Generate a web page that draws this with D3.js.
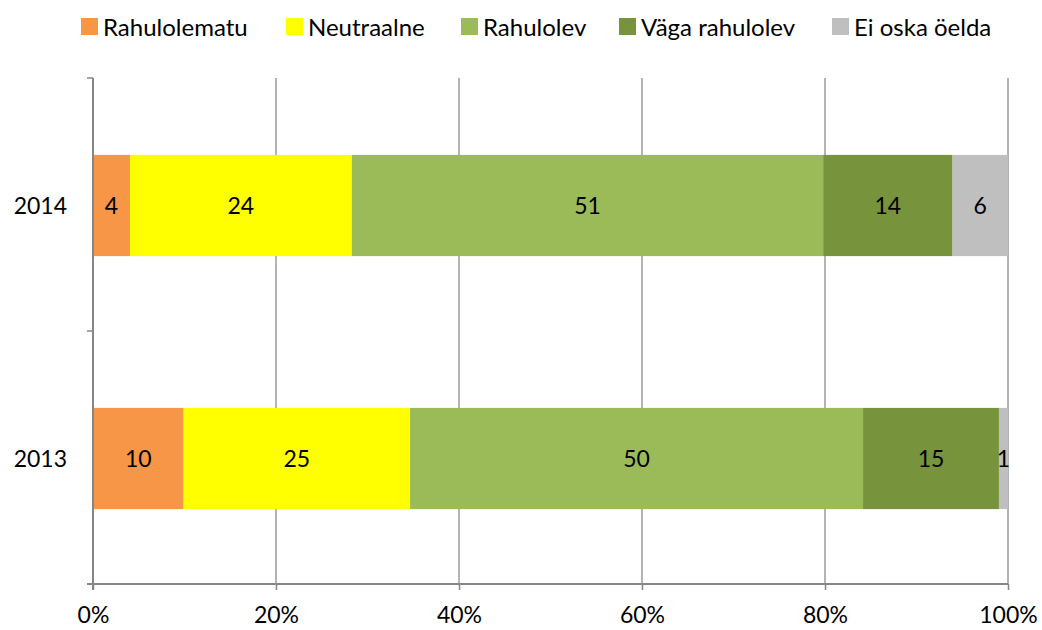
<!DOCTYPE html>
<html>
<head>
<meta charset="utf-8">
<script src="https://cdn.jsdelivr.net/npm/d3@7"></script>
<style>
  body { margin: 0; background: #fff; }
  text { font-family: Lato, "Liberation Sans", sans-serif; fill: #000; }
</style>
</head>
<body>
<svg id="chart" width="1042" height="630"></svg>
<script>
const years = ["2014", "2013"];
const seriesNames = ["Rahulolematu", "Neutraalne", "Rahulolev", "Väga rahulolev", "Ei oska öelda"];
const values2014 = [4, 24, 51, 14, 6];
const values2013 = [10, 25, 50, 15, 1];
const xTicks = [0, 0.2, 0.4, 0.6, 0.8, 1.0];
const colors = ["#F79646", "#FFFF00", "#9BBB59", "#77933C", "#BFBFBF"];

(function () {
const rows = [values2014, values2013];
const svg = d3.select("#chart");
const pL = 93, pR = 1008, pT = 78, pB = 584;
const fontNum = 23;

const x = d3.scaleLinear().domain([0, 1]).range([pL, pR]);
const y = d3.scaleBand().domain(years).range([pT, pB]).paddingInner(0.6).paddingOuter(0.3);
const yFull = d3.scaleBand().domain(years).range([pT, pB]);

// gridlines
svg.append("g").selectAll("line").data(xTicks.slice(1)).join("line")
  .attr("x1", d => x(d)).attr("x2", d => x(d))
  .attr("y1", pT).attr("y2", pB)
  .attr("stroke", "#8c8c8c").attr("stroke-width", 1.3);

// bars
years.forEach((yr, i) => {
  const vals = rows[i];
  const total = d3.sum(vals);
  let cum = 0;
  const segs = vals.map((v, j) => {
    const s = { x0: cum / total, x1: (cum + v) / total, v, j };
    cum += v;
    return s;
  });
  const g = svg.append("g");
  g.selectAll("rect").data(segs).join("rect")
    .attr("x", d => x(d.x0)).attr("width", d => x(d.x1) - x(d.x0))
    .attr("y", y(yr) + 1).attr("height", y.bandwidth())
    .attr("fill", d => colors[d.j]);
  g.selectAll("text").data(segs).join("text")
    .attr("x", d => (x(d.x0) + x(d.x1)) / 2)
    .attr("y", y(yr) + 1 + y.bandwidth() / 2)
    .attr("dy", "0.36em")
    .attr("text-anchor", "middle")
    .attr("font-size", fontNum)
    .text(d => d.v);
});

// x axis
const xAxis = svg.append("g").attr("transform", `translate(0,${pB})`)
  .call(d3.axisBottom(x).tickValues(xTicks).tickFormat(d3.format(".0%")).tickSize(6).tickSizeOuter(0));
xAxis.select(".domain").attr("stroke", "#868686").attr("stroke-width", 2).attr("d", `M${pL - 6},0H${pR}`);
xAxis.selectAll(".tick line").attr("stroke", "#868686").attr("stroke-width", 1.5);
xAxis.selectAll(".tick text").attr("font-size", fontNum).attr("font-family", "Lato, 'Liberation Sans', sans-serif").attr("y", 39).attr("dy", "0");

// y axis
const yAxis = svg.append("g").attr("transform", `translate(${pL},0)`)
  .call(d3.axisLeft(yFull).tickSize(0).tickPadding(26));
yAxis.select(".domain").attr("stroke", "#868686").attr("stroke-width", 2).attr("d", `M0,${pT}V${pB + 6}`);
yAxis.selectAll(".tick text").attr("font-size", fontNum).attr("font-family", "Lato, 'Liberation Sans', sans-serif").attr("dy", "0.4em");
// category boundary ticks
const bounds = [pT, yFull.step() + pT, pB];
svg.append("g").selectAll("line").data(bounds).join("line")
  .attr("x1", pL - 6).attr("x2", pL)
  .attr("y1", d => d).attr("y2", d => d)
  .attr("stroke", "#868686").attr("stroke-width", 1.5);

// legend
const legendX = [81, 286, 461, 619, 832];
const lg = svg.append("g").selectAll("g").data(seriesNames).join("g")
  .attr("transform", (d, i) => `translate(${legendX[i]},18)`);
lg.append("rect").attr("width", 17).attr("height", 17).attr("fill", (d, i) => colors[i]);
lg.append("text").attr("x", 22).attr("y", 9).attr("dy", "0.36em").attr("font-size", 24).text(d => d);
})();
</script>
</body>
</html>
